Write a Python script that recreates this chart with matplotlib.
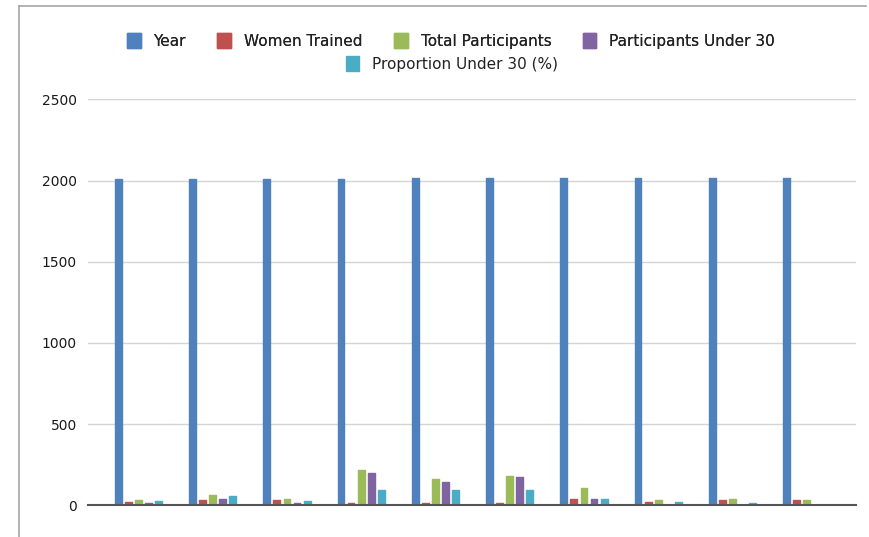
import numpy as np
import matplotlib
matplotlib.use("Agg")
import matplotlib.pyplot as plt
from matplotlib.patches import Patch
from matplotlib.lines import Line2D

plt.rcParams['font.family'] = ['DejaVu Sans']

# data
years = [2010, 2011, 2012, 2013, 2014, 2015, 2016, 2017, 2018, 2019]
women_trained = [20, 31, 31, 12, 12, 12, 39, 20, 31, 31]
total_participants = [31, 64, 39, 215, 162, 180, 109, 31, 39, 31]
under_30 = [12, 39, 12, 199, 146, 172, 39, 0, 0, 0]
proportion_under_30 = [29, 55, 29, 92, 92, 92, 39, 22, 12, 0]

series_names = ["Year", "Women Trained", "Total Participants",
                "Participants Under 30", "Proportion Under 30 (%)"]
colors = ["#4F81BD", "#C0504D", "#9BBB59", "#8064A2", "#4BACC6"]
y_ticks = [0, 500, 1000, 1500, 2000, 2500]

series = [years, women_trained, total_participants, under_30, proportion_under_30]

fig = plt.figure(figsize=(8.69, 5.37), dpi=100)
ax = fig.add_axes([88 / 869, 1 - 505.3 / 537, (856 - 88) / 869, (505.3 - 99.5) / 537])

x = np.arange(len(years))
step = 0.136
width = 0.092
for i, (vals, col) in enumerate(zip(series, colors)):
    ax.bar(x + (i - 2) * step, vals, width=width, color=col, edgecolor=col,
           linewidth=1.0, joinstyle='round', zorder=3)

ax.set_ylim(0, 2500)
ax.set_xlim(-0.679, 9.664)
ax.set_yticks(y_ticks)
ax.set_yticklabels([str(t) for t in y_ticks], fontsize=10, color="#1a1a1a")
ax.set_xticks([])
ax.tick_params(axis='y', length=0, pad=8)
ax.yaxis.grid(True, color="#D4D4D4", linewidth=1.0, zorder=0)
for side in ["left", "right", "top"]:
    ax.spines[side].set_visible(False)
ax.spines["bottom"].set_color("#555555")
ax.spines["bottom"].set_linewidth(1.5)
ax.spines["bottom"].set_zorder(4)

# legend: four entries on the first row, the last one centred below
handles = [Patch(facecolor=c, edgecolor=c) for c in colors]
leg_kw = dict(frameon=False, fontsize=11, handlelength=0.9, handleheight=1.1,
              handletextpad=0.85, labelcolor="#222222")
leg1 = fig.legend(handles[:4], series_names[:4], loc="center",
                  bbox_to_anchor=(451 / 869, 1 - 41 / 537), ncol=4,
                  columnspacing=2.05, **leg_kw)
leg2 = fig.legend(handles[4:], series_names[4:], loc="center",
                  bbox_to_anchor=(452 / 869, 1 - 64 / 537), ncol=1, **leg_kw)
fig.add_artist(leg1)

# frame lines of the cropped chart area
fig.add_artist(Line2D([18.5 / 869, 18.5 / 869], [0, 1 - 6 / 537],
                      transform=fig.transFigure, color="#A6A6A6", linewidth=1.2))
fig.add_artist(Line2D([18.5 / 869, 866 / 869], [1 - 6 / 537, 1 - 6 / 537],
                      transform=fig.transFigure, color="#A6A6A6", linewidth=1.2))

fig.savefig("out.png", dpi=100)
